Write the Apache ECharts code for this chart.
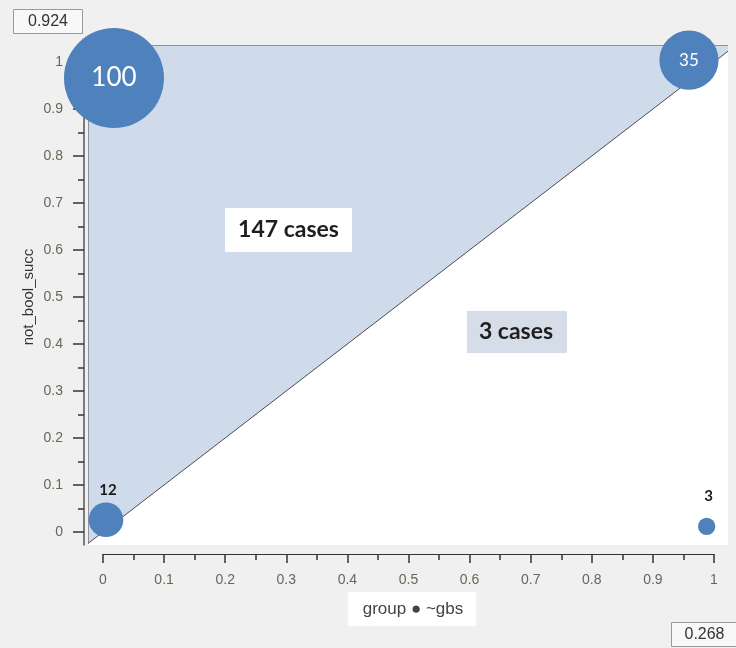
<!DOCTYPE html>
<html>
<head>
<meta charset="utf-8">
<script src="https://cdn.jsdelivr.net/npm/echarts@6/dist/echarts.min.js"></script>
<style>
  html, body { margin: 0; padding: 0; background: #f0f0f0; }
  #chart { width: 736px; height: 648px; }
</style>
</head>
<body>
<div id="chart"></div>
<script>
// Bubble groups: x = group ● ~gbs, y = not_bool_succ, and the number of cases in each
const groupX = [0.018, 0.959, 0.005, 0.988];
const notBoolSucc = [0.966, 1.004, 0.026, 0.012];
const caseCounts = [100, 35, 12, 3];

// Tick labels shared by both axes (0 to 1 in steps of 0.1)
const tickLabels = ['0', '0.1', '0.2', '0.3', '0.4', '0.5', '0.6', '0.7', '0.8', '0.9', '1'];

// Region annotations: above the diagonal / below the diagonal
const regionLabels = ['147 cases', '3 cases'];
// Corner readouts
const cornerValues = ['0.924', '0.268'];

const xName = 'group ● ~gbs';
const yName = 'not_bool_succ';

// Visible extent of the plotting frame (slightly wider than 0..1)
const X_MIN = -0.0245, X_MAX = 1.0229;
const Y_MIN = -0.0277, Y_MAX = 1.0362;

const tickFmt = v => tickLabels[Math.round(v * 10)];
const labelFont = '"Liberation Sans", Arial, sans-serif';
const calloutFont = 'Lato, "Open Sans", sans-serif';
const tickStyle = { color: '#333', width: 1.5 };

const chart = echarts.init(document.getElementById('chart'), null, { renderer: 'canvas' });

chart.setOption({
  animation: false,
  backgroundColor: '#f0f0f0',
  grid: [
    // plotting frame
    { left: 88, right: 8, top: 45, bottom: 103, show: true, backgroundColor: '#ffffff', borderWidth: 0 },
    // y ticks/labels (0..1)
    { left: 84, width: 1, top: 62, bottom: 116 },
    // x ticks/labels (0..1)
    { left: 103, right: 22, top: 544, bottom: 94 }
  ],
  xAxis: [
    { gridIndex: 0, type: 'value', min: X_MIN, max: X_MAX, show: false },
    { gridIndex: 1, type: 'value', min: 0, max: 1, show: false },
    {
      gridIndex: 2, type: 'value', min: 0, max: 1, interval: 0.1, position: 'bottom',
      axisLine: { show: true, lineStyle: { color: '#333', width: 1.2 } },
      axisTick: { show: true, length: 9, lineStyle: tickStyle },
      minorTick: { show: true, splitNumber: 2, length: 6, lineStyle: tickStyle },
      splitLine: { show: false },
      axisLabel: { formatter: tickFmt, margin: 19, color: '#6b6557', fontSize: 14, fontFamily: labelFont }
    }
  ],
  yAxis: [
    {
      gridIndex: 0, type: 'value', min: Y_MIN, max: Y_MAX, offset: 4,
      axisLine: { show: true, onZero: false, lineStyle: { color: '#555', width: 1.5 } },
      axisTick: { show: false }, axisLabel: { show: false }, splitLine: { show: false }
    },
    {
      gridIndex: 1, type: 'value', min: 0, max: 1, interval: 0.1,
      axisLine: { show: false },
      axisTick: { show: true, length: 11, lineStyle: tickStyle },
      minorTick: { show: true, splitNumber: 2, length: 6, lineStyle: tickStyle },
      splitLine: { show: false },
      axisLabel: { formatter: tickFmt, margin: 21, color: '#6b6557', fontSize: 14, fontFamily: labelFont },
      name: yName, nameLocation: 'middle', nameRotate: 90, nameGap: 48,
      nameTextStyle: { color: '#333', fontSize: 15, fontFamily: labelFont }
    },
    { gridIndex: 2, type: 'value', min: 0, max: 1, show: false }
  ],
  series: [
    {
      // shaded region where not_bool_succ >= group ● ~gbs
      type: 'custom', xAxisIndex: 0, yAxisIndex: 0, clip: true, silent: true, z: 1,
      data: [[0, 0]],
      renderItem: (params, api) => {
        const pts = [[X_MIN, X_MIN], [Y_MAX, Y_MAX], [X_MIN, Y_MAX]].map(p => api.coord(p));
        return {
          type: 'polygon',
          shape: { points: pts },
          style: { fill: '#cfdbea', stroke: '#4d4d4d', lineWidth: 1 }
        };
      }
    },
    {
      type: 'scatter', xAxisIndex: 0, yAxisIndex: 0, clip: false, z: 5,
      symbolSize: v => 10 * Math.sqrt(v[2]),
      itemStyle: { color: '#4f81bd', opacity: 1 },
      data: caseCounts.map((c, i) => ({
        value: [groupX[i], notBoolSucc[i], c],
        label: c >= 30
          ? { show: true, position: 'inside', formatter: String(c), color: '#ffffff',
              fontSize: c >= 50 ? 26 : 17, fontFamily: calloutFont }
          : { show: true, position: 'inside', offset: [2, -30], formatter: String(c), color: '#1a1a1a',
              fontWeight: 'bold', fontSize: 15, fontFamily: calloutFont }
      }))
    }
  ],
  graphic: [
    // region callouts
    { type: 'rect', left: 225, top: 208, shape: { width: 127, height: 44 }, style: { fill: '#ffffff' }, z: 10 },
    { type: 'text', x: 288.5, y: 230, z: 11,
      style: { text: regionLabels[0], fill: '#1e1e1e', font: 'bold 23px ' + calloutFont, align: 'center', verticalAlign: 'middle' } },
    { type: 'rect', left: 467, top: 311, shape: { width: 100, height: 42 }, style: { fill: '#d5dde8' }, z: 10 },
    { type: 'text', x: 516, y: 332, z: 11,
      style: { text: regionLabels[1], fill: '#1e1e1e', font: 'bold 23px ' + calloutFont, align: 'center', verticalAlign: 'middle' } },
    // x-axis title box
    { type: 'rect', left: 348, top: 592, shape: { width: 128, height: 34 }, style: { fill: '#ffffff' }, z: 10 },
    { type: 'text', x: 413, y: 609, z: 11,
      style: { text: xName, fill: '#444', font: '17px ' + labelFont, align: 'center', verticalAlign: 'middle' } },
    // corner readouts
    { type: 'rect', left: 13, top: 9, shape: { width: 69, height: 24 },
      style: { fill: '#f8f8f8', stroke: '#9a9a9a', lineWidth: 1 }, z: 10 },
    { type: 'text', x: 48, y: 21.5, z: 11,
      style: { text: cornerValues[0], fill: '#333', font: '16px ' + labelFont, align: 'center', verticalAlign: 'middle' } },
    { type: 'rect', left: 671, top: 622, shape: { width: 69, height: 24 },
      style: { fill: '#f8f8f8', stroke: '#9a9a9a', lineWidth: 1 }, z: 10 },
    { type: 'text', x: 704.5, y: 634.5, z: 11,
      style: { text: cornerValues[1], fill: '#333', font: '16px ' + labelFont, align: 'center', verticalAlign: 'middle' } }
  ]
});
</script>
</body>
</html>
